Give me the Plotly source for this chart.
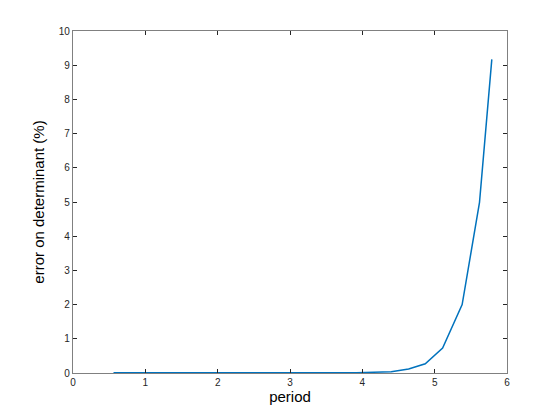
import plotly.graph_objects as go

# period vs. relative error on the determinant
period = [0.56, 0.80, 1.04, 1.28, 1.52, 1.76, 2.00, 2.24, 2.48, 2.72, 2.96, 3.20,
          3.44, 3.68, 3.92, 4.16, 4.40, 4.64, 4.87, 5.11, 5.38, 5.62, 5.79]
error_pct = [0.005, 0.008, 0.004, 0.010, 0.006, 0.012, 0.004, 0.008, 0.005, 0.009,
             0.004, 0.006, 0.003, 0.007, 0.005, 0.012, 0.04, 0.12, 0.27, 0.73,
             2.00, 4.99, 9.17]

x_ticks = [0, 1, 2, 3, 4, 5, 6]
y_ticks = [0, 1, 2, 3, 4, 5, 6, 7, 8, 9, 10]

fig = go.Figure(go.Scatter(
    x=period, y=error_pct, mode="lines",
    line=dict(color="#0072BD", width=1.5),
    showlegend=False,
))

axis_style = dict(
    showgrid=False, zeroline=False,
    showline=True, linecolor="#808080", linewidth=1.3, mirror="ticks",
    ticks="inside", ticklen=4, tickcolor="#262626", tickwidth=1,
    tickfont=dict(family="Liberation Sans, Arial", size=10, color="#262626"),
)

fig.update_xaxes(range=[0, 6], tickvals=x_ticks,
                 title=dict(text="period", font=dict(family="Liberation Sans, Arial", size=15, color="#000000"),
                            standoff=2),
                 **axis_style)
fig.update_yaxes(range=[0, 10], tickvals=y_ticks,
                 title=dict(text="error on determinant (%)", font=dict(family="Liberation Sans, Arial", size=15, color="#000000"),
                            standoff=10),
                 **axis_style)

# the page body adds an 8px offset, so margins are shifted to compensate
fig.update_layout(
    width=560, height=420,
    margin=dict(l=65, r=61, t=23, b=55),
    paper_bgcolor="white", plot_bgcolor="white",
)

fig.write_html("out.html")
